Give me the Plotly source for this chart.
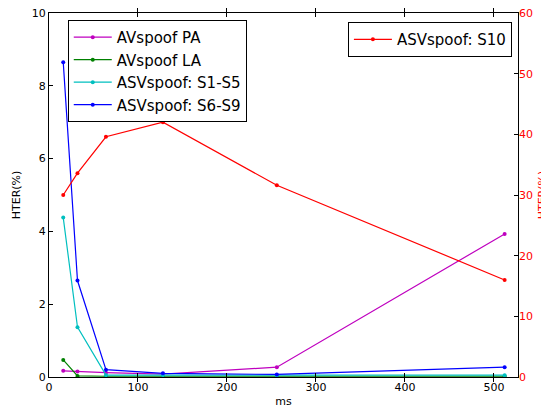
import plotly.graph_objects as go

ms = [16, 32, 64, 128, 256, 512]
avspoof_pa = [0.17, 0.15, 0.12, 0.08, 0.27, 3.93]
avspoof_la = [0.47, 0.03, 0.02, 0.02, 0.01, 0.02]
asv_s1_s5 = [4.38, 1.37, 0.05, 0.05, 0.04, 0.05]
asv_s6_s9 = [8.65, 2.65, 0.20, 0.10, 0.07, 0.27]
asv_s10 = [30.0, 33.6, 39.6, 42.0, 31.6, 16.0]

x_ticks = [0, 100, 200, 300, 400, 500]
left_ticks = [0, 2, 4, 6, 8, 10]
right_ticks = [0, 10, 20, 30, 40, 50, 60]

FONT = "DejaVu Sans"
fig = go.Figure()

left_series = [
    ("AVspoof PA", avspoof_pa, "rgb(191,0,191)"),
    ("AVspoof LA", avspoof_la, "rgb(0,128,0)"),
    ("ASVspoof: S1-S5", asv_s1_s5, "rgb(0,191,191)"),
    ("ASVspoof: S6-S9", asv_s6_s9, "rgb(0,0,255)"),
]
for name, vals, col in left_series:
    fig.add_trace(go.Scatter(x=ms, y=vals, name=name, mode="lines+markers",
                             line=dict(color=col, width=1.2),
                             marker=dict(color=col, size=4),
                             legend="legend"))

fig.add_trace(go.Scatter(x=ms, y=asv_s10, name="ASVspoof: S10", mode="lines+markers",
                         line=dict(color="rgb(255,0,0)", width=1.2),
                         marker=dict(color="rgb(255,0,0)", size=4),
                         yaxis="y2", legend="legend2"))

# The page body has an 8px default margin, so the figure is sized to fit.
fig.update_layout(
    width=541, height=404,
    margin=dict(l=41, r=31, t=5, b=35, autoexpand=False),
    paper_bgcolor="white", plot_bgcolor="white",
    font=dict(family=FONT, size=11, color="black"),
    xaxis=dict(range=[0, 527], tickvals=x_ticks, showgrid=False, zeroline=False,
               showline=True, linecolor="black", linewidth=1, mirror="allticks",
               ticks="inside", ticklen=4, tickcolor="black",
               ticklabeloverflow="allow",
               title=dict(text="ms", standoff=4, font=dict(size=11))),
    yaxis=dict(range=[0, 10], tickvals=left_ticks, showgrid=False, zeroline=False,
               showline=True, linecolor="black", linewidth=1, mirror=True,
               ticks="inside", ticklen=4, tickcolor="black",
               ticklabeloverflow="allow",
               title=dict(text="HTER(%)", standoff=8, font=dict(size=11))),
    yaxis2=dict(range=[0, 60], tickvals=right_ticks, overlaying="y", side="right",
                showgrid=False, zeroline=False, showline=False,
                ticks="inside", ticklen=4, tickcolor="black",
                ticklabeloverflow="allow",
                tickfont=dict(color="rgb(255,0,0)"),
                title=dict(text="HTER(%)", standoff=6,
                           font=dict(size=11, color="rgb(255,0,0)"))),
    legend=dict(x=0.04, y=0.981, xanchor="left", yanchor="top",
                bordercolor="black", borderwidth=1, bgcolor="white",
                font=dict(size=15), tracegroupgap=0, itemwidth=38),
    legend2=dict(x=0.987, y=0.975, xanchor="right", yanchor="top",
                 bordercolor="black", borderwidth=1, bgcolor="white",
                 font=dict(size=15), itemwidth=38),
)

fig.write_html("out.html")
